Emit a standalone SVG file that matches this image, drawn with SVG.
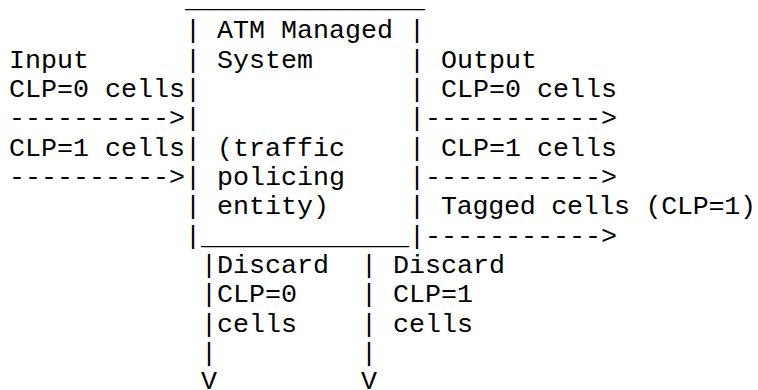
<svg xmlns="http://www.w3.org/2000/svg" width="758" height="390" viewBox="0 0 758 390">
<style>
text{font-family:"Liberation Mono","Courier New",monospace;font-size:26.67px;fill:#000;white-space:pre}
</style>
<rect width="758" height="390" fill="#fff"/>
<g id="atm-system">
<text x="185" y="7">_______________</text>
<text x="185" y="38.4">|</text><text x="409" y="38.4">|</text>
<text x="185" y="67.7">|</text><text x="409" y="67.7">|</text>
<text x="185" y="97.1">|</text><text x="409" y="97.1">|</text>
<text x="185" y="126.4">|</text><text x="409" y="126.4">|</text>
<text x="185" y="155.7">|</text><text x="409" y="155.7">|</text>
<text x="185" y="185.1">|</text><text x="409" y="185.1">|</text>
<text x="185" y="214.4">|</text><text x="409" y="214.4">|</text>
<text x="185" y="243.7">|_____________|</text>
<text x="217" y="38.4">ATM Managed</text>
<text x="217" y="67.7">System</text>
<text x="217" y="155.7">(traffic</text>
<text x="217" y="185.1">policing</text>
<text x="217" y="214.4">entity)</text>
</g>
<g id="input">
<text x="9" y="67.7">Input</text>
<text x="9" y="97.1">CLP=0 cells</text>
<text x="9" y="155.7">CLP=1 cells</text>
</g>
<g id="output">
<text x="441" y="67.7">Output</text>
<text x="441" y="97.1">CLP=0 cells</text>
<text x="441" y="155.7">CLP=1 cells</text>
<text x="441" y="214.4" textLength="315" lengthAdjust="spacing">Tagged cells (CLP=1)</text>
</g>
<g id="discard-clp0">
<text x="201" y="273.1">|Discard</text>
<text x="201" y="302.4">|CLP=0</text>
<text x="201" y="331.7">|cells</text>
<text x="201" y="361">|</text>
</g>
<g id="discard-clp1">
<text x="361" y="273.1">| Discard</text>
<text x="361" y="302.4">| CLP=1</text>
<text x="361" y="331.7">| cells</text>
<text x="361" y="361">|</text>
</g>
<g id="connectors">
<text x="9" y="126.4">----------&gt;</text>
<text x="9" y="185.1">----------&gt;</text>
<text x="425" y="126.4">-----------&gt;</text>
<text x="425" y="185.1">-----------&gt;</text>
<text x="425" y="243.7">-----------&gt;</text>
<text x="201" y="389">V</text>
<text x="361" y="389">V</text>
</g>
</svg>
